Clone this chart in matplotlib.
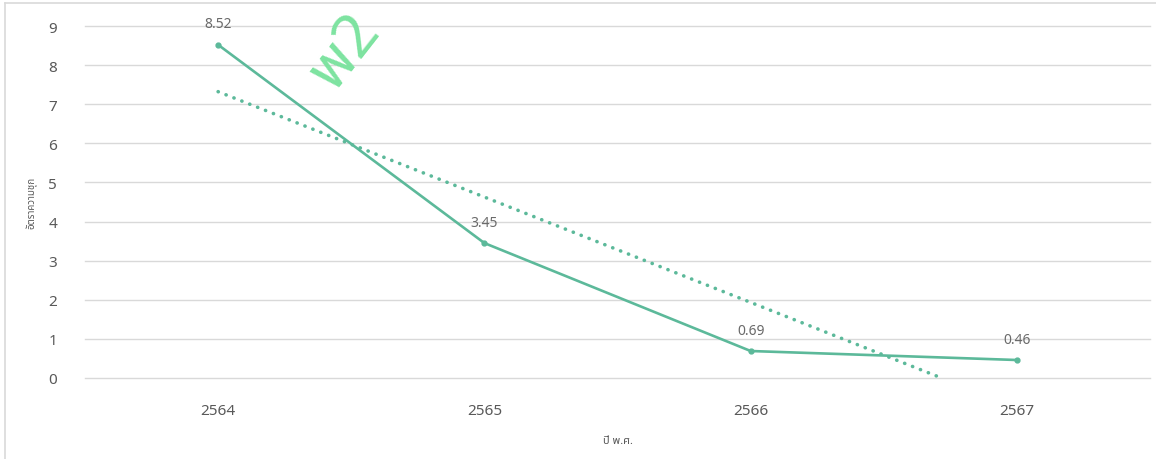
import numpy as np
import matplotlib
matplotlib.use("Agg")
import matplotlib.pyplot as plt
from matplotlib.lines import Line2D

plt.rcParams['font.family'] = ['Noto Sans Thai', 'Tahoma', 'Loma', 'Garuda', 'Open Sans', 'DejaVu Sans']

years = ['2564', '2565', '2566', '2567']
rates = [8.52, 3.45, 0.69, 0.46]
label_text = ['8.52', '3.45', '0.69', '0.46']
yticks = [0, 1, 2, 3, 4, 5, 6, 7, 8, 9]
ylabel = 'อัตราความชุก'
xlabel = 'ปี พ.ศ.'
watermark = 'พ2'

W, H = 1156, 460
fig = plt.figure(figsize=(W / 100, H / 100), dpi=100)
ax = fig.add_axes([85 / W, (H - 379) / H, (1150 - 85) / W, 352 / H])

line_col = '#5cb99a'
grid_col = '#d9d9d9'
text_col = '#595959'
label_col = '#6a6a6a'

x = np.arange(len(years))
ax.plot(x, rates, color=line_col, lw=1.9, marker='o', ms=3.5, zorder=3, clip_on=False)

# linear trendline (computed from the data), clipped at zero
slope, intercept = np.polyfit(x, rates, 1)
x0 = -intercept / slope
tx = np.array([0, min(x0, 3)])
ax.plot(tx, slope * tx + intercept, color=line_col, lw=2.6, ls=(0, (0.05, 2.3)),
        dash_capstyle='round', zorder=2, clip_on=False)

for xi, v, t in zip(x, rates, label_text):
    ax.annotate(t, (xi, v), xytext=(0, 15), textcoords='offset points',
                ha='center', va='center', fontsize=10, color=label_col, zorder=4)

ax.set_xlim(-0.5, 3.5)
ax.set_ylim(0, 9)
ax.set_yticks(yticks)
ax.set_xticks(x)
ax.set_xticklabels(years)
ax.grid(axis='y', color=grid_col, lw=1)
for gl in ax.get_ygridlines():
    gl.set_clip_on(False)
ax.set_axisbelow(True)
for s in ax.spines.values():
    s.set_visible(False)
ax.tick_params(axis='both', length=0, colors=text_col, labelsize=11)
ax.tick_params(axis='y', pad=20)
ax.tick_params(axis='x', pad=18)
ax.set_xlabel(xlabel, fontsize=8, color=text_col, labelpad=12)
ax.set_ylabel(ylabel, fontsize=7, color=text_col, labelpad=8)

# outer frame lines (top & left)
fig.add_artist(Line2D([5 / W, 1], [1 - 4 / H, 1 - 4 / H], color=grid_col, lw=1.2, transform=fig.transFigure))
fig.add_artist(Line2D([5 / W, 5 / W], [0, 1 - 4 / H], color=grid_col, lw=1.2, transform=fig.transFigure))

# watermark
fig.text(345 / W, 1 - 52 / H, watermark, rotation=52, fontsize=44, fontweight='bold',
         color='#7de3a0', ha='center', va='center', zorder=10)

fig.savefig('out.png', dpi=100)
